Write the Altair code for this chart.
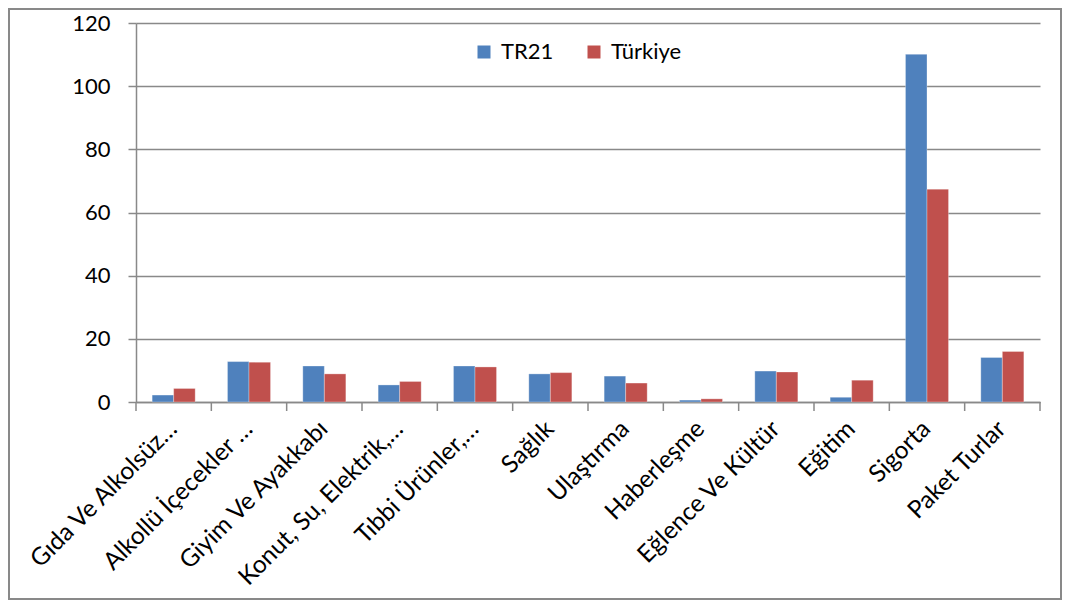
import altair as alt
import pandas as pd

categories = ["Gıda Ve Alkolsüz…", "Alkollü İçecekler …", "Giyim Ve Ayakkabı",
              "Konut, Su, Elektrik,…", "Tıbbi Ürünler,…", "Sağlık", "Ulaştırma",
              "Haberleşme", "Eğlence Ve Kültür", "Eğitim", "Sigorta", "Paket Turlar"]
series_names = ["TR21", "Türkiye"]
tr21 = [2.2, 12.8, 11.4, 5.4, 11.4, 8.9, 8.2, 0.6, 9.8, 1.5, 110.1, 14.1]
turkiye = [4.3, 12.6, 8.9, 6.5, 11.1, 9.3, 6.0, 1.0, 9.5, 6.9, 67.4, 16.0]
y_ticks = [0, 20, 40, 60, 80, 100, 120]
colors = ["#4F81BD", "#C0504D"]

rows = []
for c, a, b in zip(categories, tr21, turkiye):
    rows.append({"cat": c, "seri": "TR21", "val": a})
    rows.append({"cat": c, "seri": "Türkiye", "val": b})
df = pd.DataFrame(rows)
cat_df = pd.DataFrame({"cat": categories})

W, H = 904, 379
FONT = "Lato"
GRAY = "#898989"

xscale = alt.Scale(paddingInner=0, paddingOuter=0)

bars = alt.Chart(df).mark_bar(stroke="white", strokeWidth=0.5, strokeOpacity=0.6).encode(
    x=alt.X("cat:N", sort=categories, scale=xscale,
            axis=alt.Axis(title=None, labelAngle=-45, labelAlign="right", labelBaseline="middle",
                          labelFont=FONT, labelFontSize=24.5, labelColor="#000000",
                          labelPadding=23, ticks=False, domainColor=GRAY, domainWidth=1.5,
                          labelLimit=400, grid=False)),
    xOffset=alt.XOffset("seri:N", sort=series_names,
                        scale=alt.Scale(paddingOuter=0.75, paddingInner=0)),
    y=alt.Y("val:Q", scale=alt.Scale(domain=[0, 120], nice=False),
            axis=alt.Axis(title=None, values=y_ticks, labelFont=FONT, labelFontSize=22,
                          labelColor="#000000", labelPadding=18, tickSize=8, tickColor=GRAY,
                          tickWidth=1.5, domainColor=GRAY, domainWidth=1.5,
                          gridColor=GRAY, gridWidth=1.5)),
    color=alt.Color("seri:N", sort=series_names,
                    scale=alt.Scale(domain=series_names, range=colors),
                    legend=alt.Legend(title=None, orient="none", legendX=337, legendY=18,
                                      direction="horizontal", symbolType="square",
                                      symbolSize=169, symbolStrokeWidth=0,
                                      labelFont=FONT, labelFontSize=22, labelColor="#000000",
                                      labelOffset=6, columnPadding=29, padding=0)),
)

ticks0 = alt.Chart(cat_df).mark_rule(color=GRAY, strokeWidth=1.5).encode(
    x=alt.X("cat:N", sort=categories, bandPosition=0, scale=xscale),
    y=alt.value(H), y2=alt.value(H + 9),
)
ticks1 = alt.Chart(cat_df).transform_filter(
    alt.datum.cat == categories[-1]
).mark_rule(color=GRAY, strokeWidth=1.5).encode(
    x=alt.X("cat:N", sort=categories, bandPosition=1, scale=xscale),
    y=alt.value(H), y2=alt.value(H + 9),
)

frame = alt.Chart(pd.DataFrame({"k": [0]})).mark_rect(
    fill="transparent", stroke=GRAY, strokeWidth=2
).encode(
    x=alt.value(-127), x2=alt.value(925), y=alt.value(-14), y2=alt.value(576),
)

chart = alt.layer(frame, bars, ticks0, ticks1).properties(
    width=W, height=H,
    autosize=alt.AutoSizeParams(type="none"),
    padding={"left": 128, "top": 15, "right": 22, "bottom": 198},
).configure_view(stroke=None)

chart.save("out.html", embed_options={"renderer": "svg", "actions": False})
